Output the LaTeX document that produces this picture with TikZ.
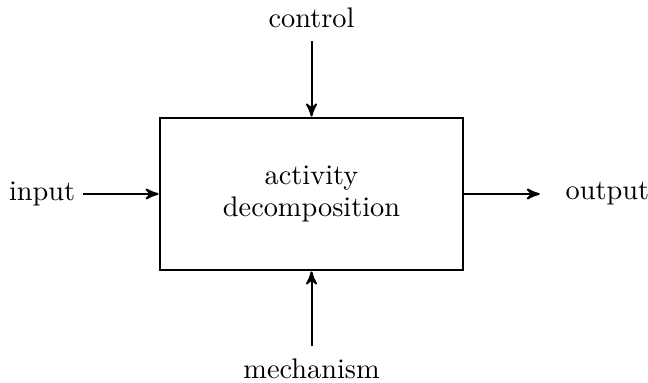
\documentclass[tikz,border=0pt]{standalone}
\usepackage{tikz}
\usetikzlibrary{arrows,positioning}

\begin{document}
\begin{tikzpicture}[->,>=stealth',shorten >=0pt,auto,node distance=26.6pt,
                    line width=0.7pt]

\useasboundingbox (-110pt,-66.7pt) rectangle (118.8pt,68.5pt);

\node[draw,line width=1pt,minimum width=107pt,minimum height=53.7pt,
      align=center] (box) at (0,0) {activity\\[-0.7pt]decomposition};
\node[inner sep=4.2pt] (control) [above=of box] {control};
\node[inner sep=2.5pt] (input) [left=of box] {input};
\node[inner sep=8.8pt] (output) [right=of box] {output};
\node[inner sep=1.5pt] (mechanism) [below=28.9pt of box] {mechanism};

\path
    (control) edge [] node {} (box)
    (input) edge [] node {} (box)
    (box) edge [] node {} (output)
    (mechanism) edge [shorten <=2.5pt] node {} (box)
;
\end{tikzpicture}
\end{document}
